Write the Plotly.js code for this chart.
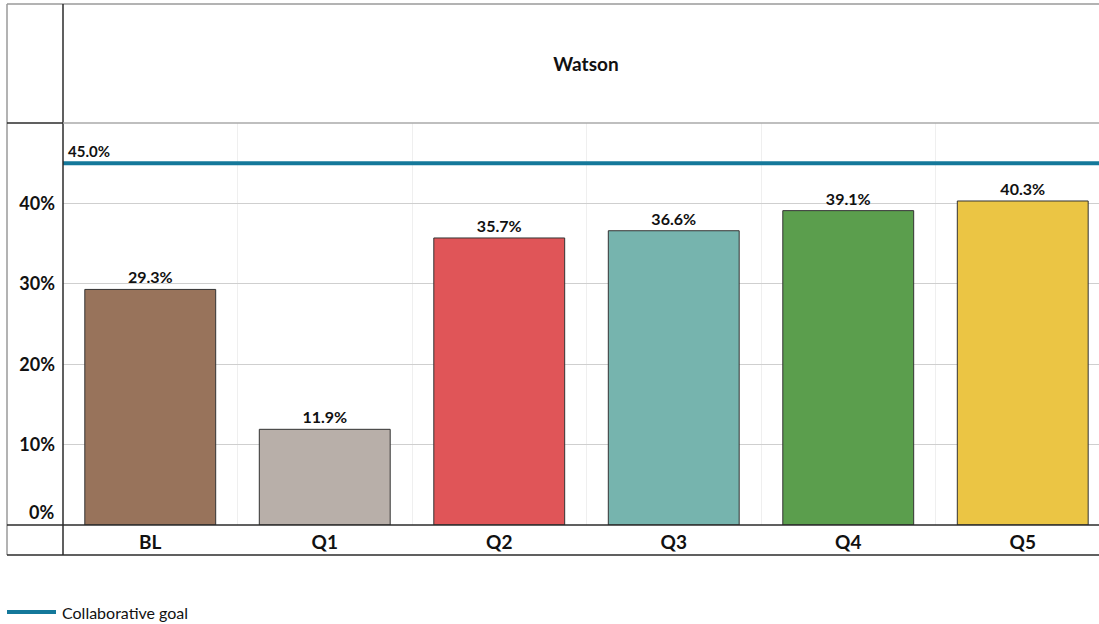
<!DOCTYPE html>
<html><head><meta charset="utf-8">
<script src="https://cdn.plot.ly/plotly-3.0.1.min.js"></script>
<style>html,body{margin:0;padding:0;background:#fff}#chart{width:1099px;height:624px}</style>
</head><body><div id="chart"></div>
<script>
const categories = ['BL','Q1','Q2','Q3','Q4','Q5'];
const values = [29.3, 11.9, 35.7, 36.6, 39.1, 40.3];
const barColors = ['#98735b','#b8afa9','#e05558','#76b4ae','#5b9e4d','#ebc544'];
const goalValue = 45.0;
const goalName = 'Collaborative goal';
const yTickVals = [0,10,20,30,40];
const yTickText = ['0%','10%','20%','30%','40%'];
const chartTitle = 'Watson';

const FONT = 'Lato, "Open Sans", sans-serif';
const dark = '#2b2b2b';
const gray = '#9a9a9a';

const bars = {
  type:'bar', x:categories, y:values,
  marker:{color:barColors, line:{color:'#333', width:1}},
  width:0.75,
  text: values.map(v=>v.toFixed(1)+'%'),
  textposition:'outside',
  textfont:{family:FONT, size:16, color:'#111', weight:'bold'},
  cliponaxis:false, hoverinfo:'skip', showlegend:false
};
const goal = {
  type:'scatter', mode:'lines',
  x:[-0.5, 5.5], y:[goalValue, goalValue],
  xaxis:'x2',
  line:{color:'#14789a', width:4},
  name:goalName, showlegend:false, hoverinfo:'skip'
};

const px = x => (x-63)/1036;
const py = y => (525-y)/402;
function ln(x0,y0,x1,y1,c,w){return {type:'line',xref:'paper',yref:'paper',x0:px(x0),y0:py(y0),x1:px(x1),y1:py(y1),line:{color:c,width:w},layer:'above'};}

const shapes = [
  ln(7,4,1099,4,gray,1.5),
  ln(7,4,7,555,gray,1.5),
  ln(63,4,63,555,dark,1.5),
  ln(63,123,1099,123,'#aaaaaa',1.5),
  ln(7,123,63,123,dark,1.5),
  ln(7,525,1099,525,dark,1.5),
  ln(7,555,1099,555,dark,1.5),
  ln(7,612,56,612,'#14789a',4)
];

const annotations = [
  {xref:'paper',yref:'y',x:0.003,y:goalValue,text:'<b>'+goalValue.toFixed(1)+'%</b>',showarrow:false,xanchor:'left',yanchor:'bottom',yshift:1,font:{family:FONT,size:15,color:'#111'}},
  {xref:'paper',yref:'y',x:px(56),y:yTickVals[0],text:'<b>'+yTickText[0]+'</b>',showarrow:false,xanchor:'right',yanchor:'middle',yshift:13,font:{family:FONT,size:18,color:'#111'}},
  {xref:'paper',yref:'paper',x:px(60),y:py(612),text:goalName,showarrow:false,xanchor:'left',yanchor:'middle',font:{family:FONT,size:16,color:'#111'}}
];

const layout = {
  width:1099, height:624,
  margin:{l:63, r:0, t:123, b:99, pad:0},
  paper_bgcolor:'#fff', plot_bgcolor:'#fff',
  font:{family:FONT, color:'#111'},
  title:{text:'<b>'+chartTitle+'</b>', font:{family:FONT,size:19,color:'#111'}, xref:'container', x:586/1099, xanchor:'center', yref:'container', y:1-64/624, yanchor:'middle'},
  xaxis:{type:'category', range:[-0.5, 5.437], tickson:'boundaries', showgrid:true, gridcolor:'#efefef', gridwidth:1,
         ticks:'', showline:false, zeroline:false, fixedrange:true,
         tickfont:{family:FONT,size:19,color:'#111',weight:'bold'}, ticklabelstandoff:4},
  xaxis2:{overlaying:'x', range:[-0.5, 5.437], visible:false, fixedrange:true},
  yaxis:{range:[0,50], tickvals:yTickVals.slice(1), ticktext:yTickText.slice(1), showgrid:true, gridcolor:'#cfcfcf', gridwidth:1,
         zeroline:false, showline:false, ticks:'', fixedrange:true,
         tickfont:{family:FONT,size:18,color:'#111',weight:'bold'}, ticklabelstandoff:7},
  bargap:0.25,
  showlegend:false,
  shapes:shapes, annotations:annotations
};

Plotly.newPlot('chart',[bars, goal],layout,{displayModeBar:false, staticPlot:true});
</script></body></html>
